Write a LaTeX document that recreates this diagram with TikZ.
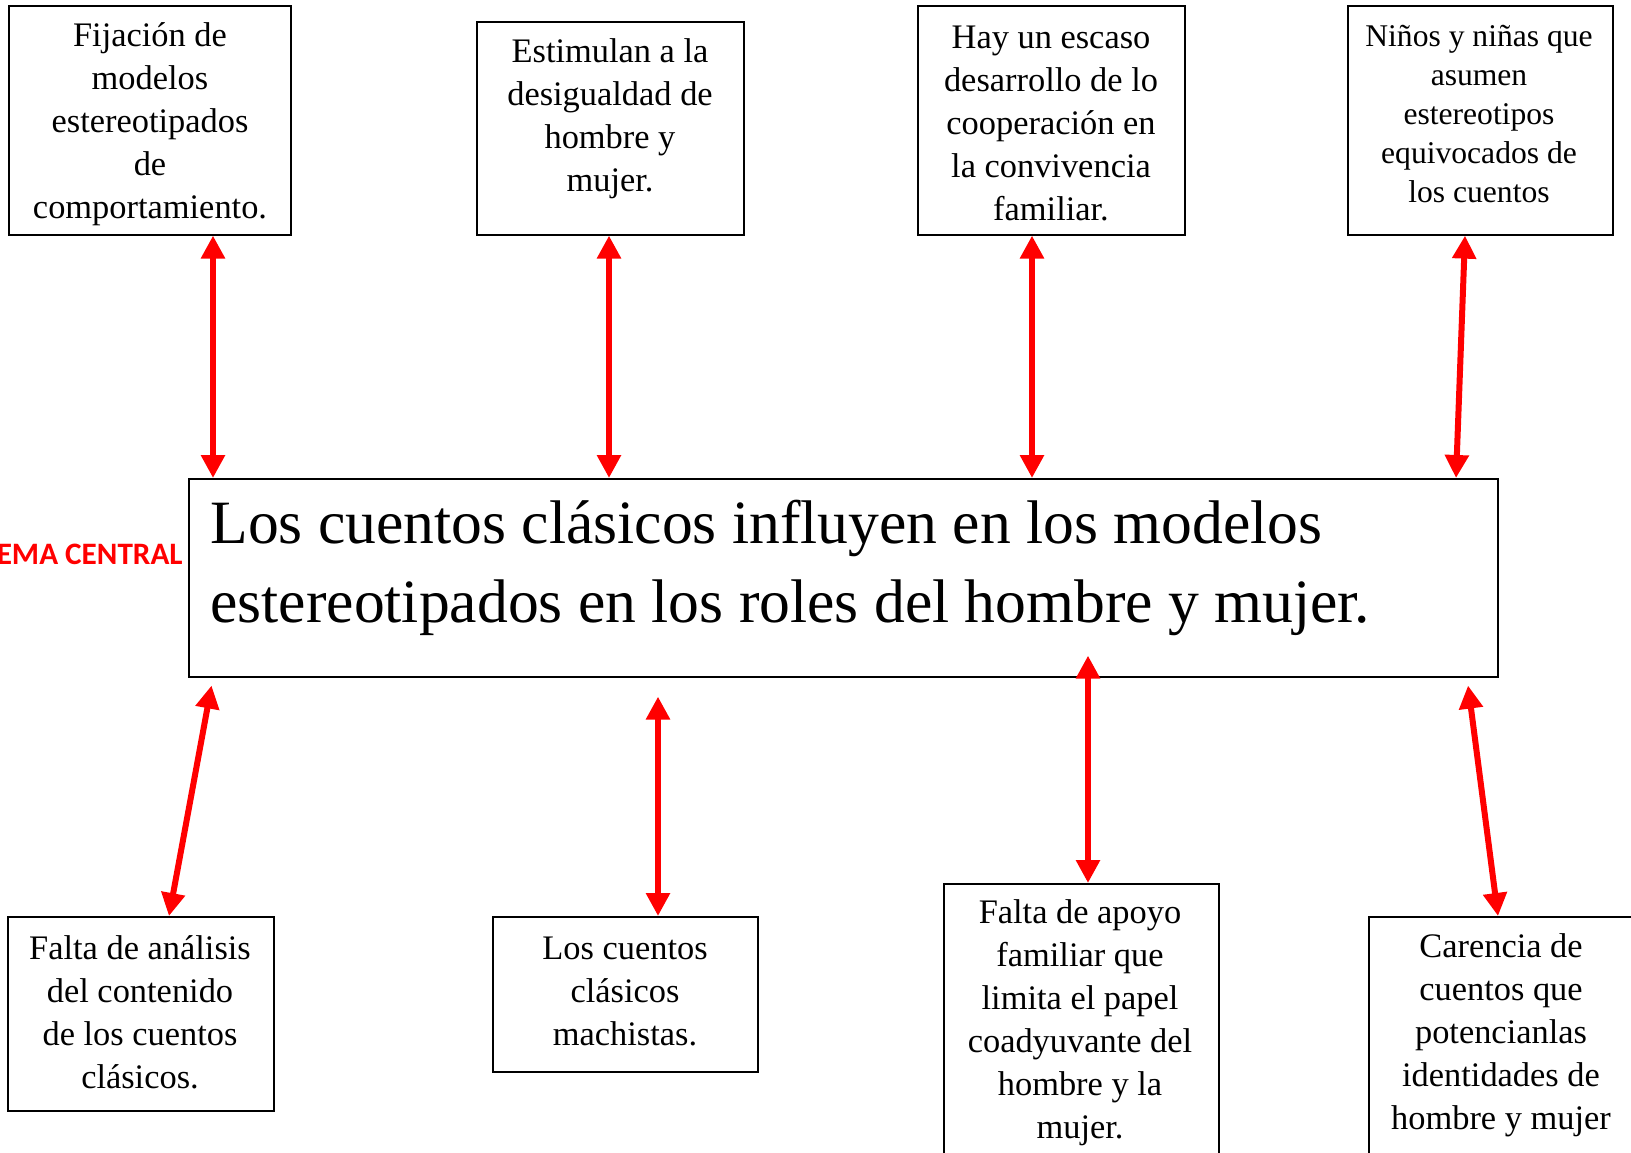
\documentclass[tikz,border=0pt]{standalone}
\usepackage{fontspec}
\setmainfont{Liberation Serif}
\newfontfamily\calib{Carlito}
\usetikzlibrary{arrows.meta,calc}
\definecolor{arrred}{RGB}{255,0,0}
\begin{document}
\begin{tikzpicture}[x=0.5pt,y=-0.5pt,
  box/.style={draw=black,line width=0.8pt,inner sep=0pt,anchor=north west},
  txt/.style={align=center,font=\fontsize{17.2}{21.5}\selectfont,inner sep=0pt},
  txts/.style={align=center,font=\fontsize{15.8}{19.5}\selectfont,inner sep=0pt},
  arr/.style={draw=arrred,line width=3pt,{Triangle[length=11.5pt,width=11.5pt]}-{Triangle[length=11.5pt,width=11.5pt]}}
]
\useasboundingbox (0,0) rectangle (1631,1152);
\clip (0,0) rectangle (1631,1152);
\fill[white] (0,0) rectangle (1631,1152);
% top boxes
\node[box,minimum width=141pt,minimum height=114.5pt] (t1) at (8,5) {};
\node[box,minimum width=133.5pt,minimum height=106.5pt] (t2) at (476,21) {};
\node[box,minimum width=133.5pt,minimum height=114.5pt] (t3) at (917,5) {};
\node[box,minimum width=132.5pt,minimum height=114.5pt] (t4) at (1347,5) {};
% central
\node[box,minimum width=654.5pt,minimum height=99pt] (c) at (188,478) {};
% bottom boxes
\node[box,minimum width=133pt,minimum height=97pt] (b1) at (7,916) {};
\node[box,minimum width=132.5pt,minimum height=77.5pt] (b2) at (492,916) {};
\node[box,minimum width=137.5pt,minimum height=160pt] (b3) at (943,883) {};
\node[box,minimum width=160pt,minimum height=140pt] (b4) at (1368,916) {};
% texts
\node[txt] (tt1) at (150,124) {Fijación de\\modelos\\estereotipados\\de\\comportamiento.};
\node[txt] (tt2) at (610,119) {Estimulan a la\\desigualdad de\\hombre y\\mujer.};
\node[txt] (tt3) at (1051,123) {Hay un escaso\\desarrollo de lo\\cooperación en\\la convivencia\\familiar.};
\node[txts] (tt4) at (1479,114) {Niños y niñas que\\asumen\\estereotipos\\equivocados de\\los cuentos};
\node[txt] (bt1) at (140,1012) {Falta de análisis\\del contenido\\de los cuentos\\clásicos.};
\node[txt] (bt2) at (625,991) {Los cuentos\\clásicos\\machistas.};
\node[txt] (bt3) at (1080,1023) {Falta de apoyo\\familiar que\\limita el papel\\coadyuvante del\\hombre y la\\mujer.};
\node[txt] (bt4) at (1501,1035) {Carencia de\\cuentos que\\potencianlas\\identidades de\\hombre y mujer};
\node[align=left,anchor=west,inner sep=0pt,font=\fontsize{30.8}{39.5}\selectfont] (ct) at (210,568)
  {Los cuentos clásicos influyen en los modelos\\estereotipados en los roles del hombre y mujer.};
\node[anchor=base east,inner sep=0pt,text=arrred,font=\calib\bfseries\fontsize{15.6}{19}\selectfont] (tema) at (183,564) {EMA CENTRAL};
% arrows top
\draw[arr] (t1.south -| 213,0) -- (c.north -| 213,0);
\draw[arr] (t2.south -| 609,0) -- (c.north -| 609,0);
\draw[arr] (t3.south -| 1032,0) -- (c.north -| 1032,0);
\draw[arr] (t4.south -| 1465,0) -- (c.north -| 1456,0);
% arrows bottom
\draw[arr,shorten <=4pt] (c.south -| 213,0) -- (b1.north -| 169,0);
\draw[arr,shorten <=9.5pt] (c.south -| 658,0) -- (b2.north -| 658,0);
\draw[arr,shorten <=-11pt] (c.south -| 1088,0) -- (b3.north -| 1088,0);
\draw[arr,shorten <=4pt] (c.south -| 1467,0) -- (b4.north -| 1498,0);
\end{tikzpicture}
\end{document}
